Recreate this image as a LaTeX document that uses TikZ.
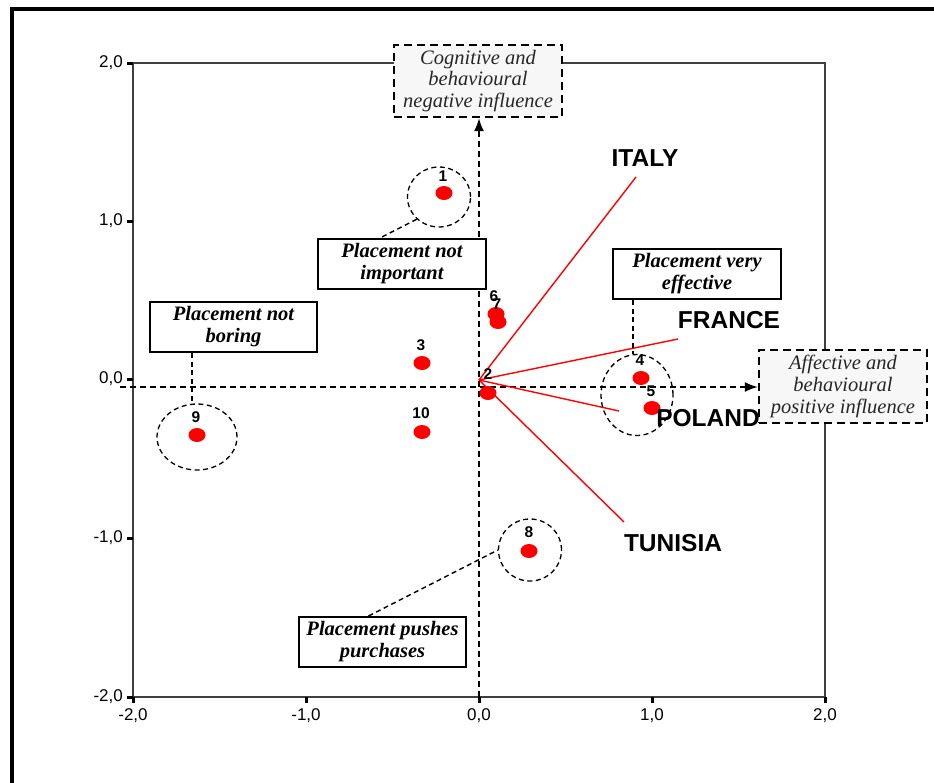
\documentclass[tikz,border=0pt]{standalone}
\usepackage{fontspec}
\setmainfont{Liberation Serif}
\newfontfamily\arialf{Liberation Sans}
\usetikzlibrary{arrows.meta,shapes.geometric}
\begin{document}
\begin{tikzpicture}[x=1pt,y=-1pt,
  frameline/.style={draw=black!75,line width=1.4pt},
  tickmark/.style={line width=3pt},
  ticklab/.style={font=\arialf\fontsize{17}{17}\selectfont,inner sep=0pt},
  dashaxis/.style={dash pattern=on 6pt off 4pt,line width=1.5pt,-{Latex[length=13pt,width=10pt]}},
  lead/.style={dash pattern=on 5pt off 3.5pt,line width=1.4pt},
  grpring/.style={ellipse,draw,dash pattern=on 5pt off 3.5pt,line width=1.3pt,inner sep=0pt},
  dotpt/.style={ellipse,fill=red,minimum width=17pt,minimum height=14pt,inner sep=0pt},
  numlab/.style={font=\arialf\bfseries\fontsize{15.5}{15.5}\selectfont,inner sep=0pt},
  axisbox/.style={draw,fill=black!3,dash pattern=on 8pt off 5pt,line width=2.4pt,text=black!85,font=\itshape\fontsize{20.5}{21.7}\selectfont,align=center,inner sep=0pt,minimum width=168pt},
  notebox/.style={draw,fill=white,line width=2pt,font=\bfseries\itshape\fontsize{20.5}{22}\selectfont,align=center,inner sep=0pt,minimum width=168pt,minimum height=50pt},
  country/.style={font=\arialf\bfseries\fontsize{24.5}{24.5}\selectfont,inner sep=0pt},
  loading/.style={draw=red,line width=1.4pt}
]
\useasboundingbox (0,0) rectangle (934,782);
% outer border
\draw[line width=3.5pt] (12,790) -- (12,9) -- (940,9);
% plot frame
\draw[frameline] (133,63) rectangle (825,697);
% y ticks and labels
\foreach \yy/\lab [count=\i] in {63/{2,0},221/{1,0},379/{0,0},538/{-1,0},697/{-2,0}}{
  \draw[tickmark] (127,\yy) -- (133,\yy);
  \node[ticklab,anchor=east] (yl\i) at (123,\yy) {\lab};
}
% x ticks and labels
\foreach \xx/\lab [count=\i] in {133/{-2,0},306/{-1,0},479/{0,0},652/{1,0},825/{2,0}}{
  \draw[tickmark] (\xx,697) -- (\xx,703);
  \node[ticklab] (xl\i) at (\xx,716) {\lab};
}
% axis boxes
\node[axisbox,minimum height=72pt] (cog) at (478,81) {Cognitive and\\behavioural\\negative influence};
\node[axisbox,minimum height=73pt] (aff) at (843,386.5) {Affective and\\behavioural\\positive influence};
% dashed axes
\coordinate (hx0) at (120,387);
\coordinate (vy0) at (479,697);
\draw[dashaxis] (hx0) -- (aff.west |- hx0);
\draw[dashaxis] (vy0) -- (cog.south -| vy0);
% country loadings
\coordinate (o) at (479,380);
\coordinate (itE) at (636,177);
\coordinate (frE) at (678,339);
\coordinate (plE) at (619,411);
\coordinate (tuE) at (624,522);
\draw[loading] (o) -- (itE);
\draw[loading] (o) -- (frE);
\draw[loading] (o) -- (plE);
\draw[loading] (o) -- (tuE);
\node[country] (italy) at (645,158) {ITALY};
\node[country] (france) at (729,320) {FRANCE};
\node[country] (tunisia) at (673,543) {TUNISIA};
% group rings
\node[grpring,minimum width=63pt,minimum height=60pt] (c1) at (439,197) {};
\node[grpring,minimum width=80pt,minimum height=66pt] (c9) at (197,437) {};
\node[grpring,minimum width=72pt,minimum height=81pt] (c45) at (637,395) {};
\node[grpring,minimum width=63pt,minimum height=62pt] (c8) at (530,550) {};
% note boxes
\node[notebox] (notimp) at (402,264) {Placement not\\important};
\node[notebox,minimum width=167pt] (notbor) at (233.5,327) {Placement not\\boring};
\node[notebox] (veff) at (697,274) {Placement very\\effective};
\node[notebox,minimum width=167pt] (push) at (382.5,642) {Placement pushes\\purchases};
% leaders
\draw[lead] (c1.225) -- ([xshift=-22pt]notimp.north);
\draw[lead] ([xshift=-41.5pt]notbor.south) -- ([xshift=-41.5pt]notbor.south |- c9.north);
\draw[lead] ([xshift=-64pt]veff.south) -- ([xshift=-64pt]veff.south |- c45.north);
\draw[lead] ([xshift=-14pt]push.north) -- (c8.west);
% dots
\node[dotpt] (p1) at (444,193) {};
\node[dotpt] (p2) at (488,393) {};
\node[dotpt] (p3) at (422,363) {};
\node[dotpt] (p4) at (641,378) {};
\node[dotpt] (p5) at (652,408) {};
\node[dotpt] (p6) at (496,314) {};
\node[dotpt] (p7) at (498,322) {};
\node[dotpt] (p8) at (529,551) {};
\node[dotpt] (p9) at (197,435) {};
\node[dotpt] (p10) at (422,432) {};
% dot numbers
\node[numlab] (n1) at (443,176) {1};
\node[numlab] (n2) at (488,374) {2};
\node[numlab] (n3) at (421,345) {3};
\node[numlab] (n4) at (640,360) {4};
\node[numlab] (n5) at (651,391) {5};
\node[numlab] (n6) at (494,296) {6};
\node[numlab] (n7) at (497,304) {7};
\node[numlab] (n8) at (529,532) {8};
\node[numlab] (n9) at (196,417) {9};
\node[numlab] (n10) at (421,413) {10};
\node[country] (poland) at (708,418) {POLAND};
\end{tikzpicture}
\end{document}
